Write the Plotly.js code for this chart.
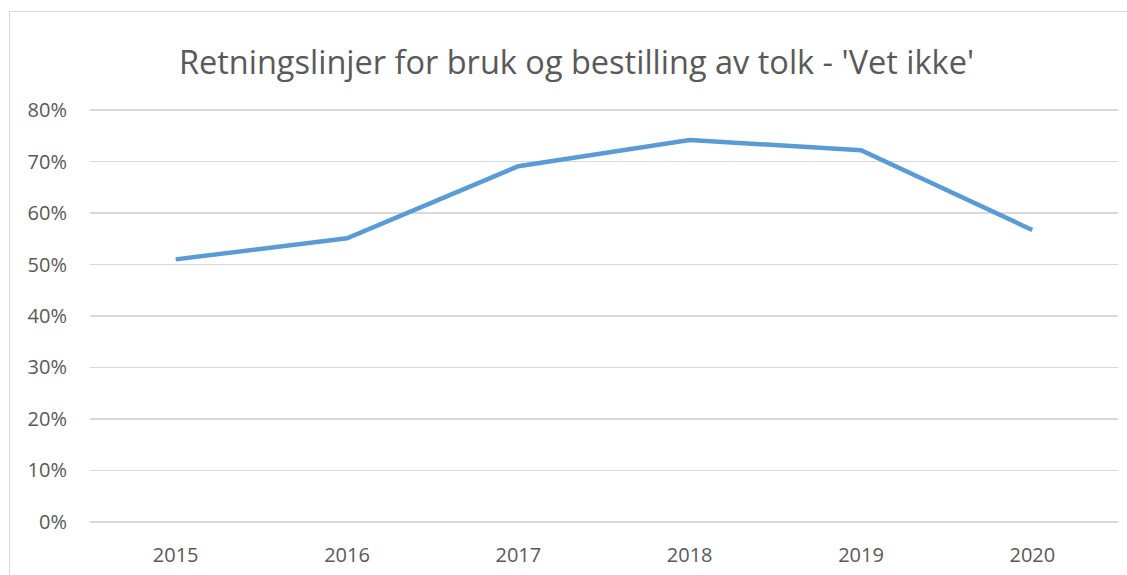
<!DOCTYPE html>
<html>
<head>
<meta charset="utf-8">
<script src="https://cdn.plot.ly/plotly-3.0.1.min.js"></script>
<style>
  html, body { margin: 0; padding: 0; background: #fff; overflow: hidden; }
  #wrap { position: relative; width: 1127px; height: 575px; }
  #frame { position: absolute; left: 9px; top: 11px; width: 1130px; height: 580px; border: 1px solid #d9d9d9; box-sizing: border-box; pointer-events: none; z-index: 5; }
  #chart { position: absolute; left: 0; top: 0; width: 1127px; height: 575px; }
</style>
</head>
<body>
<div id="wrap">
  <div id="chart"></div>
  <div id="frame"></div>
</div>
<script>
const years = ['2015', '2016', '2017', '2018', '2019', '2020'];
const vetIkke = [0.51, 0.551, 0.691, 0.742, 0.722, 0.567];
const yTicks = [0, 0.1, 0.2, 0.3, 0.4, 0.5, 0.6, 0.7, 0.8];
const yTickText = ['0%', '10%', '20%', '30%', '40%', '50%', '60%', '70%', '80%'];
const chartTitle = "Retningslinjer for bruk og bestilling av tolk - 'Vet ikke'";

const fontFamily = '"Open Sans", "Liberation Sans", sans-serif';

Plotly.newPlot('chart', [{
  x: years,
  y: vetIkke,
  type: 'scatter',
  mode: 'lines',
  line: { color: '#5B9BD5', width: 4.5 },
  hoverinfo: 'skip'
}], {
  width: 1127,
  height: 575,
  margin: { l: 90, r: 9, t: 108, b: 51 },
  paper_bgcolor: '#ffffff',
  plot_bgcolor: '#ffffff',
  showlegend: false,
  title: {
    text: chartTitle,
    x: 0.5115,
    xanchor: 'center',
    y: 0.872,
    yanchor: 'bottom',
    font: { family: fontFamily, size: 32.5, color: '#595959' }
  },
  xaxis: {
    type: 'category',
    range: [-0.5, 5.5],
    showgrid: false,
    zeroline: false,
    showline: false,
    ticks: '',
    ticklabelstandoff: 17,
    tickfont: { family: fontFamily, size: 20, color: '#595959' }
  },
  yaxis: {
    range: [-0.004, 0.804],
    tickvals: yTicks,
    ticktext: yTickText,
    showgrid: true,
    gridcolor: '#d9d9d9',
    gridwidth: 1.5,
    zeroline: false,
    showline: false,
    ticks: '',
    ticklabelstandoff: 22,
    tickfont: { family: fontFamily, size: 20, color: '#595959' }
  }
}, { displayModeBar: false, staticPlot: true });
</script>
</body>
</html>
